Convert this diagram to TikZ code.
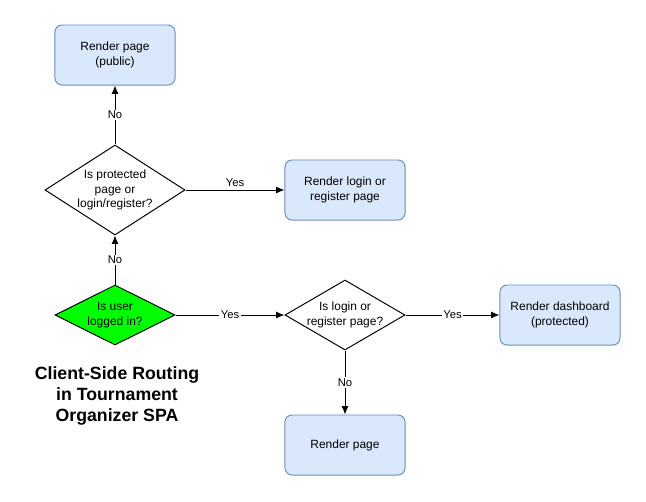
\documentclass[tikz,border=0pt]{standalone}
\usepackage{fontspec}
\setmainfont{Liberation Sans}
\usepackage{tikz}
\usetikzlibrary{arrows.meta}
\usetikzlibrary{shapes.geometric}
\definecolor{pagefill}{HTML}{DAE8FC}
\definecolor{pageline}{HTML}{6C8EBF}
\definecolor{yesgreen}{HTML}{00FF00}
\tikzset{>={Latex[length=6pt,width=5pt]}}
\tikzstyle{page} = [rectangle, rounded corners=5pt, draw=pageline, fill=pagefill, line width=0.7pt, minimum width=3cm, minimum height=1.5cm, align=center, font=\fontsize{8.5}{10.5}\selectfont]
\tikzstyle{decide} = [diamond, draw=black, line width=0.7pt, inner sep=0pt]
\tikzstyle{dtext} = [align=center, font=\fontsize{8.5}{10.5}\selectfont]
\tikzstyle{ans} = [fill=white, inner sep=1pt, font=\fontsize{8}{9}\selectfont]

\begin{document}
\begin{tikzpicture}[x=0.025cm, y=-0.025cm]
\useasboundingbox (0,0) rectangle (646,501);
%title
\node [align=center, font=\bfseries\fontsize{12.6}{15}\selectfont] (title) at (117,396) {Client-Side Routing\\in Tournament\\Organizer SPA};
\node [page] (pub) at (115,55) {Render page\\(public)};
\node [decide, minimum width=3.5cm, minimum height=2.25cm, label={[dtext]center:Is protected\\page or\\login/register?}] (prot) at (115,190) {};
\node [page] (login) at (345,190) {Render login or\\register page};
\node [decide, fill=yesgreen, minimum width=3cm, minimum height=1.5cm, label={[dtext]center:Is user\\logged in?}] (user) at (115,315) {};
\node [decide, minimum width=3cm, minimum height=1.75cm, label={[dtext]center:Is login or\\register page?}] (islogin) at (345,315) {};
\node [page] (dash) at (560,315) {Render dashboard\\(protected)};
\node [page] (render) at (345,445) {Render page};
\draw [->, line width=0.7pt] (prot) to node [ans] {No} (pub);
\draw [->, line width=0.7pt] (prot) to node [above, inner sep=2pt, font=\fontsize{8}{9}\selectfont] {Yes} (login);
\draw [->, line width=0.7pt] (user) to node [ans] {No} (prot);
\draw [->, line width=0.7pt] (user) to node [ans] {Yes} (islogin);
\draw [->, line width=0.7pt] (islogin) to node [ans] {Yes} (dash);
\draw [->, line width=0.7pt] (islogin) to node [ans] {No} (render);
\end{tikzpicture}
\end{document}
